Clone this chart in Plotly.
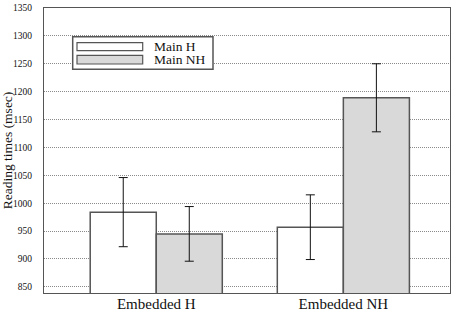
import plotly.graph_objects as go

categories = ["Embedded H", "Embedded NH"]
series_names = ["Main H", "Main NH"]
main_h = [984, 957]
main_h_err = [62, 58]
main_nh = [945, 1189]
main_nh_err = [49, 61]
y_ticks = [850, 900, 950, 1000, 1050, 1100, 1150, 1200, 1250, 1300, 1350]

FONT = "Liberation Serif"
EDGE = "#555555"
fills = ["#ffffff", "#d9d9d9"]

fig = go.Figure()
for name, vals, errs, fill in zip(series_names, [main_h, main_nh], [main_h_err, main_nh_err], fills):
    fig.add_trace(go.Bar(
        x=categories, y=vals, name=name,
        marker=dict(color=fill, line=dict(color=EDGE, width=1.5)),
        error_y=dict(type="data", array=errs, visible=True, color="#111111", thickness=1, width=4.5),
        showlegend=False,
    ))

fig.update_layout(
    width=454, height=311,
    margin=dict(l=44, r=4, t=8, b=18),
    paper_bgcolor="white", plot_bgcolor="white",
    barmode="group", bargap=0.294, bargroupgap=0,
    font=dict(family=FONT, color="#111111"),
    xaxis=dict(
        range=[-0.6, 1.57], showline=True, linecolor=EDGE, linewidth=1, mirror=True,
        ticks="", showgrid=False, tickfont=dict(size=15, family=FONT),
        automargin=False, ticklabelstandoff=-3,
    ),
    yaxis=dict(
        range=[839, 1350], tickvals=y_ticks, showline=True, linecolor=EDGE, linewidth=1,
        mirror=True, ticks="", showgrid=True, gridcolor="#8a8a8a", griddash="1px,1px", gridwidth=1,
        tickfont=dict(size=9.5, family=FONT), zeroline=False, automargin=False,
        ticklabelstandoff=9,
        title=dict(text="Reading times (msec)", font=dict(size=13.5, family=FONT), standoff=2),
    ),
)

# Legend box drawn manually (wide swatches like the original)
def px_x(v):
    return (v - 44) / 406

def px_y(v):
    return 1 - (v - 8) / 285

fig.add_shape(type="rect", xref="paper", yref="paper",
              x0=px_x(72.7), x1=px_x(213), y0=px_y(69.3), y1=px_y(36.7),
              line=dict(color=EDGE, width=1.5), fillcolor="white")
for (top, bot, fill, name) in [(42.7, 50.7, fills[0], series_names[0]), (55.3, 64, fills[1], series_names[1])]:
    fig.add_shape(type="rect", xref="paper", yref="paper",
                  x0=px_x(77), x1=px_x(142.7), y0=px_y(bot), y1=px_y(top),
                  line=dict(color=EDGE, width=1.2), fillcolor=fill)
    fig.add_annotation(xref="paper", yref="paper", x=px_x(153), y=px_y((top + bot) / 2),
                       text=name, showarrow=False, xanchor="left", yanchor="middle",
                       height=12.5, borderpad=0,
                       font=dict(size=13.5, family=FONT, color="#111111"))

fig.write_html("out.html", config={"displayModeBar": False},
               post_script="document.body.style.margin='0';")
